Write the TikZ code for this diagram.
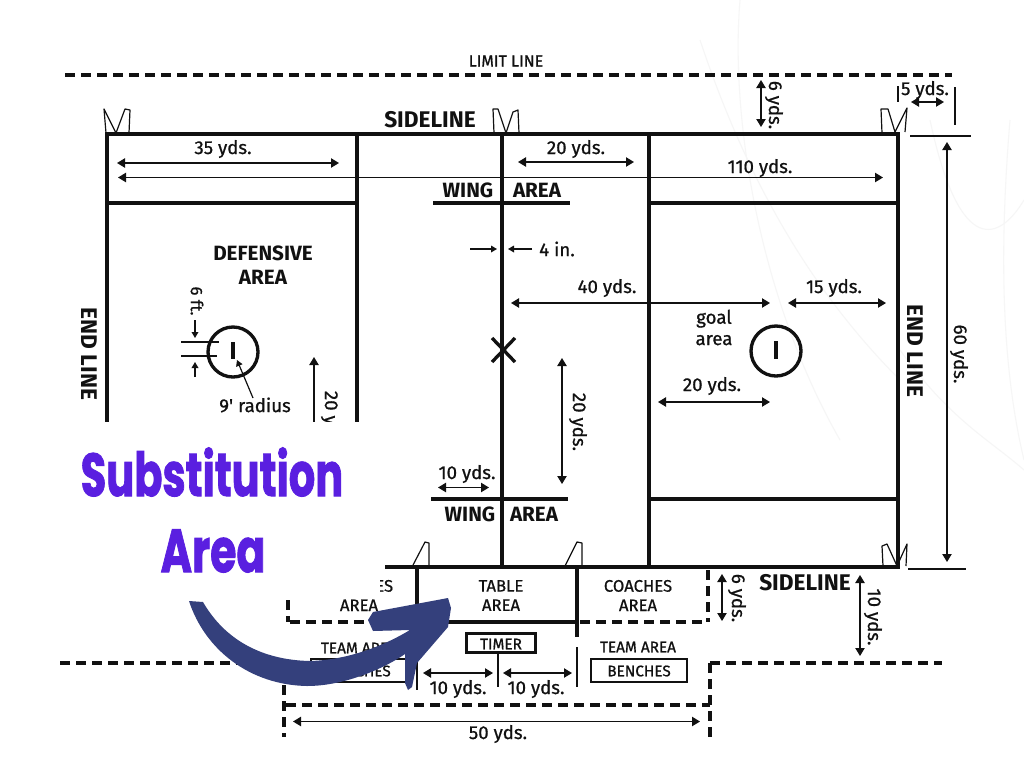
\documentclass[tikz,border=0pt]{standalone}
\usepackage{fontspec}
\usetikzlibrary{arrows.meta}
\setmainfont{Fira Sans}
\newfontfamily\medf[FakeBold=0.8]{Fira Sans}
\newfontfamily\bigf[FakeBold=1.6]{Poppins}
\definecolor{ink}{HTML}{111111}
\definecolor{subst}{HTML}{5A1FE0}
\definecolor{sweep}{HTML}{34407C}
\definecolor{faint}{HTML}{F6F6F6}
\tikzset{
  thick line/.style={draw=ink,line width=2.5pt},
  thin line/.style={draw=ink,line width=0.9pt},
  post/.style={draw=ink,line width=0.9pt,line join=round},
  dash line/.style={draw=ink,line width=2.5pt,dash pattern=on 7.5pt off 4.5pt},
  dim/.style={draw=ink,line width=0.9pt,{Triangle[length=6pt,width=7pt]}-{Triangle[length=6pt,width=7pt]}},
  oneway/.style={draw=ink,line width=0.9pt,-{Triangle[length=6pt,width=7pt]}},
  tiny arrow/.style={draw=ink,line width=0.9pt,-{Triangle[length=4.5pt,width=5pt]}},
  txt/.style={inner sep=0pt,text=ink},
  dimtxt/.style={txt,font=\medf\fontsize{14}{14}\selectfont},
  smalltxt/.style={txt,font=\medf\fontsize{11.5}{11.5}\selectfont},
  midtxt/.style={txt,font=\medf\fontsize{12.5}{12.5}\selectfont},
  areatxt/.style={txt,font=\bfseries\fontsize{15.5}{15.5}\selectfont},
  headtxt/.style={txt,font=\bfseries\fontsize{17}{17}\selectfont},
  bigtxt/.style={inner sep=0pt,text=subst,font=\bigf\bfseries\fontsize{38}{38}\selectfont},
  rot/.style={rotate=-90},
  box/.style={draw=ink,line width=1.9pt,fill=white}
}
\begin{document}
\begin{tikzpicture}[x=0.75pt,y=-0.75pt]
\useasboundingbox[fill=white] (0,0) rectangle (1024,757);
% faint background watermark
\draw[faint,line width=0.8pt] (700,40) .. controls (740,160) and (800,280) .. (900,380);
\draw[faint,line width=0.8pt] (740,0) .. controls (730,120) and (760,300) .. (840,440);
\draw[faint,line width=0.8pt] (1010,120) .. controls (1000,240) and (1000,360) .. (1024,460);
\draw[faint,line width=0.8pt] (930,120) .. controls (960,260) and (1000,240) .. (1024,200);
\draw[faint,line width=0.8pt] (900,350) .. controls (950,420) and (990,440) .. (1024,470);
% limit line
\draw[dash line] (65,75) -- (952,75);
\node[txt,font=\medf\fontsize{12}{12}\selectfont] (limit) at (506,61) {LIMIT LINE};
% court
\draw[thick line] (107,422) -- (107,134) -- (898,134) -- (898,567) -- (385,567);
\draw[thick line] (357,134) -- (357,422);
\draw[thick line] (502,134) -- (502,567);
\draw[thick line] (649,134) -- (649,567);
\draw[thick line] (107,203) -- (357,203);
\draw[thick line] (433,203) -- (570,203);
\draw[thick line] (651,203) -- (898,203);
\draw[thick line] (431,499) -- (568,499);
\draw[thick line] (650,499) -- (898,499);
% goal posts
\draw[post] (106,133) -- (104,109) -- (116,133) -- (125,109) -- (130,110) -- (129,133);
\draw[post] (494,133) -- (493,109) -- (498,109) -- (506,133) -- (513,112) -- (518,110) -- (519,133);
\draw[post] (882,133) -- (881,109) -- (888,109) -- (895,132) -- (907,108) -- (905,132);
\draw[post] (412,567) -- (425,542) -- (429,543) -- (429,567);
\draw[post] (565,566) -- (577,542) -- (582,543) -- (582,566);
\draw[post] (883,566) -- (882,546) -- (887,544) -- (897,566) -- (907,544) -- (906,566);
% goal circles
\draw[thick line] (233,352) circle (25);
\draw[thick line] (776,351) circle (25);
\draw[draw=ink,line width=3pt] (233,342) -- (233,359);
\draw[draw=ink,line width=3pt] (776,341) -- (776,359);
\draw[draw=ink,line width=2.5pt] (492,338) -- (515,362) (515,338) -- (492,362);
% headings
\node[headtxt] (side1) at (430,120) {SIDELINE};
\node[headtxt] (side2) at (805,583) {SIDELINE};
\node[headtxt,rot] (end1) at (89,354) {END LINE};
\node[headtxt,rot] (end2) at (915,351) {END LINE};
\node[areatxt] (wing1) at (468,190) {WING};
\node[areatxt] (area1) at (537,190) {AREA};
\node[areatxt] (wing2) at (470,514) {WING};
\node[areatxt] (area2) at (534,514) {AREA};
\node[areatxt,align=center] (def) at (263,265) {DEFENSIVE\\[2pt]AREA};
% dimensions, top
\draw[dim] (117,163) -- (339,163);
\node[dimtxt] (d35) at (223,149) {35 yds.};
\draw[dim] (118,177.5) -- (883,177.5);
\node[dimtxt] (d110) at (760,168) {110 yds.};
\draw[dim] (518,162) -- (634,162);
\node[dimtxt] (d20a) at (576,149) {20 yds.};
\draw[dim] (761,80) -- (761,127);
\node[dimtxt,rot] (d6a) at (774,105) {6 yds.};
\draw[thin line] (898,86) -- (898,102) (955,87) -- (955,125);
\draw[dim] (911,102) -- (944,102);
\node[dimtxt] (d5) at (925,90) {5 yds.};
\draw[thin line] (910,136) -- (971,136) (908,569) -- (966,569);
\draw[dim] (947,142) -- (947,562);
\node[dimtxt,rot] (d60) at (959,354) {60 yds.};
% 4 in
\draw[tiny arrow] (470,249) -- (497,249);
\draw[tiny arrow] (532,249) -- (508,249);
\node[dimtxt] (d4) at (557,249) {4 in.};
% centre dims
\draw[dim] (511,303) -- (770,303);
\node[dimtxt] (d40) at (607,288) {40 yds.};
\draw[dim] (788,303) -- (886,303);
\node[dimtxt] (d15) at (834,288) {15 yds.};
\node[dimtxt,align=center] (goal) at (714,327.5) {goal\\[2pt]area};
\draw[dim] (658,402) -- (770,402);
\node[dimtxt] (d20b) at (712,386) {20 yds.};
\draw[dim] (562,358) -- (562,484);
\node[dimtxt,rot] (d20c) at (578,422) {20 yds.};
\draw[dim] (438,487.5) -- (489,487.5);
\node[dimtxt] (d10a) at (467,474) {10 yds.};
% left goal dims
\node[midtxt,rot] (d6f) at (197,301) {6 ft.};
\draw[tiny arrow] (195,320) -- (195,338);
\draw[tiny arrow] (195,377) -- (195,362);
\draw[thin line] (181,342) -- (219,342) (181,356) -- (217,356);
\node[dimtxt] (rad) at (255,405) {9' radius};
\draw[tiny arrow] (253,398) -- (237,360);
\draw[oneway] (314,430) -- (314,357);
\node[dimtxt,rot] (d20d) at (330,420) {20 yds.};
% bottom structures
\draw[thick line] (417,567) -- (417,605);
\draw[thick line] (577,567) -- (577,637);
\draw[thick line] (440,622) -- (577,622);
\draw[thin line] (577,647) -- (577,687) (417,640) -- (417,690);
\draw[dash line] (580,622) -- (705,622);
\draw[dash line] (708,570) -- (708,622);
\draw[dash line] (290,622) -- (375,622);
\draw[dash line] (288,600) -- (288,622);
\draw[dash line] (60,663) -- (240,663);
\draw[dash line] (710,663) -- (942,663);
\draw[dash line] (710,663) -- (710,737);
\draw[dash line] (286,705) -- (710,705);
\draw[dash line] (284,685) -- (284,737);
\node[box,minimum width=72pt,minimum height=17pt,inner sep=0pt] (bench1) at (359,670.5) {};
\node[box,minimum width=72pt,minimum height=17pt,inner sep=0pt] (bench2) at (639,670.5) {};
\node[box,minimum width=52pt,minimum height=14pt,inner sep=0pt] (timer) at (501,643) {};
\node[smalltxt] (tb1) at (359,671) {BENCHES};
\node[smalltxt] (tb2) at (639,671) {BENCHES};
\node[smalltxt] (ttm) at (501,644) {TIMER};
\draw[thin line] (498,653) -- (498,687);
\node[smalltxt] (team1) at (359,648) {TEAM AREA};
\node[smalltxt] (team2) at (638,647) {TEAM AREA};
\node[midtxt,align=center] (coach1) at (359,595.5) {COACHES\\[2pt]AREA};
\node[midtxt,align=center] (table) at (501,595.5) {TABLE\\[2pt]AREA};
\node[midtxt,align=center] (coach2) at (638,595.5) {COACHES\\[2pt]AREA};
\draw[dim] (722,574) -- (722,621);
\node[dimtxt,rot] (d6b) at (737,598) {6 yds.};
\draw[dim] (860,575) -- (860,656);
\node[dimtxt,rot] (d10b) at (873,617) {10 yds.};
\draw[dim] (423,673) -- (493,673);
\node[dimtxt] (d10c) at (458,689) {10 yds.};
\draw[dim] (503,673) -- (572,673);
\node[dimtxt] (d10d) at (536,689) {10 yds.};
\draw[dim] (293,721.5) -- (700,721.5);
\node[dimtxt] (d50) at (498,734) {50 yds.};
% white patch
\fill[white] (0,422) rectangle (380,598);
\fill[white] (276,598) rectangle (286,600);
% text on patch
\node[bigtxt] (sub) at (212,472) {\scalebox{0.82}[1.2]{Substitution}};
\node[bigtxt] (ar) at (213,551) {\scalebox{0.84}[1.2]{Area}};
% sweep arrow
\fill[sweep] (189,601) -- (203,602)
  .. controls (225,640) and (262,660) .. (310,661)
  .. controls (345,660) and (380,648) .. (410,630)
  -- (373,631) -- (368,620) -- (373,612) -- (448,598) -- (451,608) -- (448,627)
  -- (417,663) -- (412,687) -- (408,690) -- (405,683) -- (405,654)
  .. controls (385,668) and (345,686) .. (307,686)
  .. controls (250,685) and (205,650) .. (189,601) -- cycle;
\end{tikzpicture}
\end{document}
